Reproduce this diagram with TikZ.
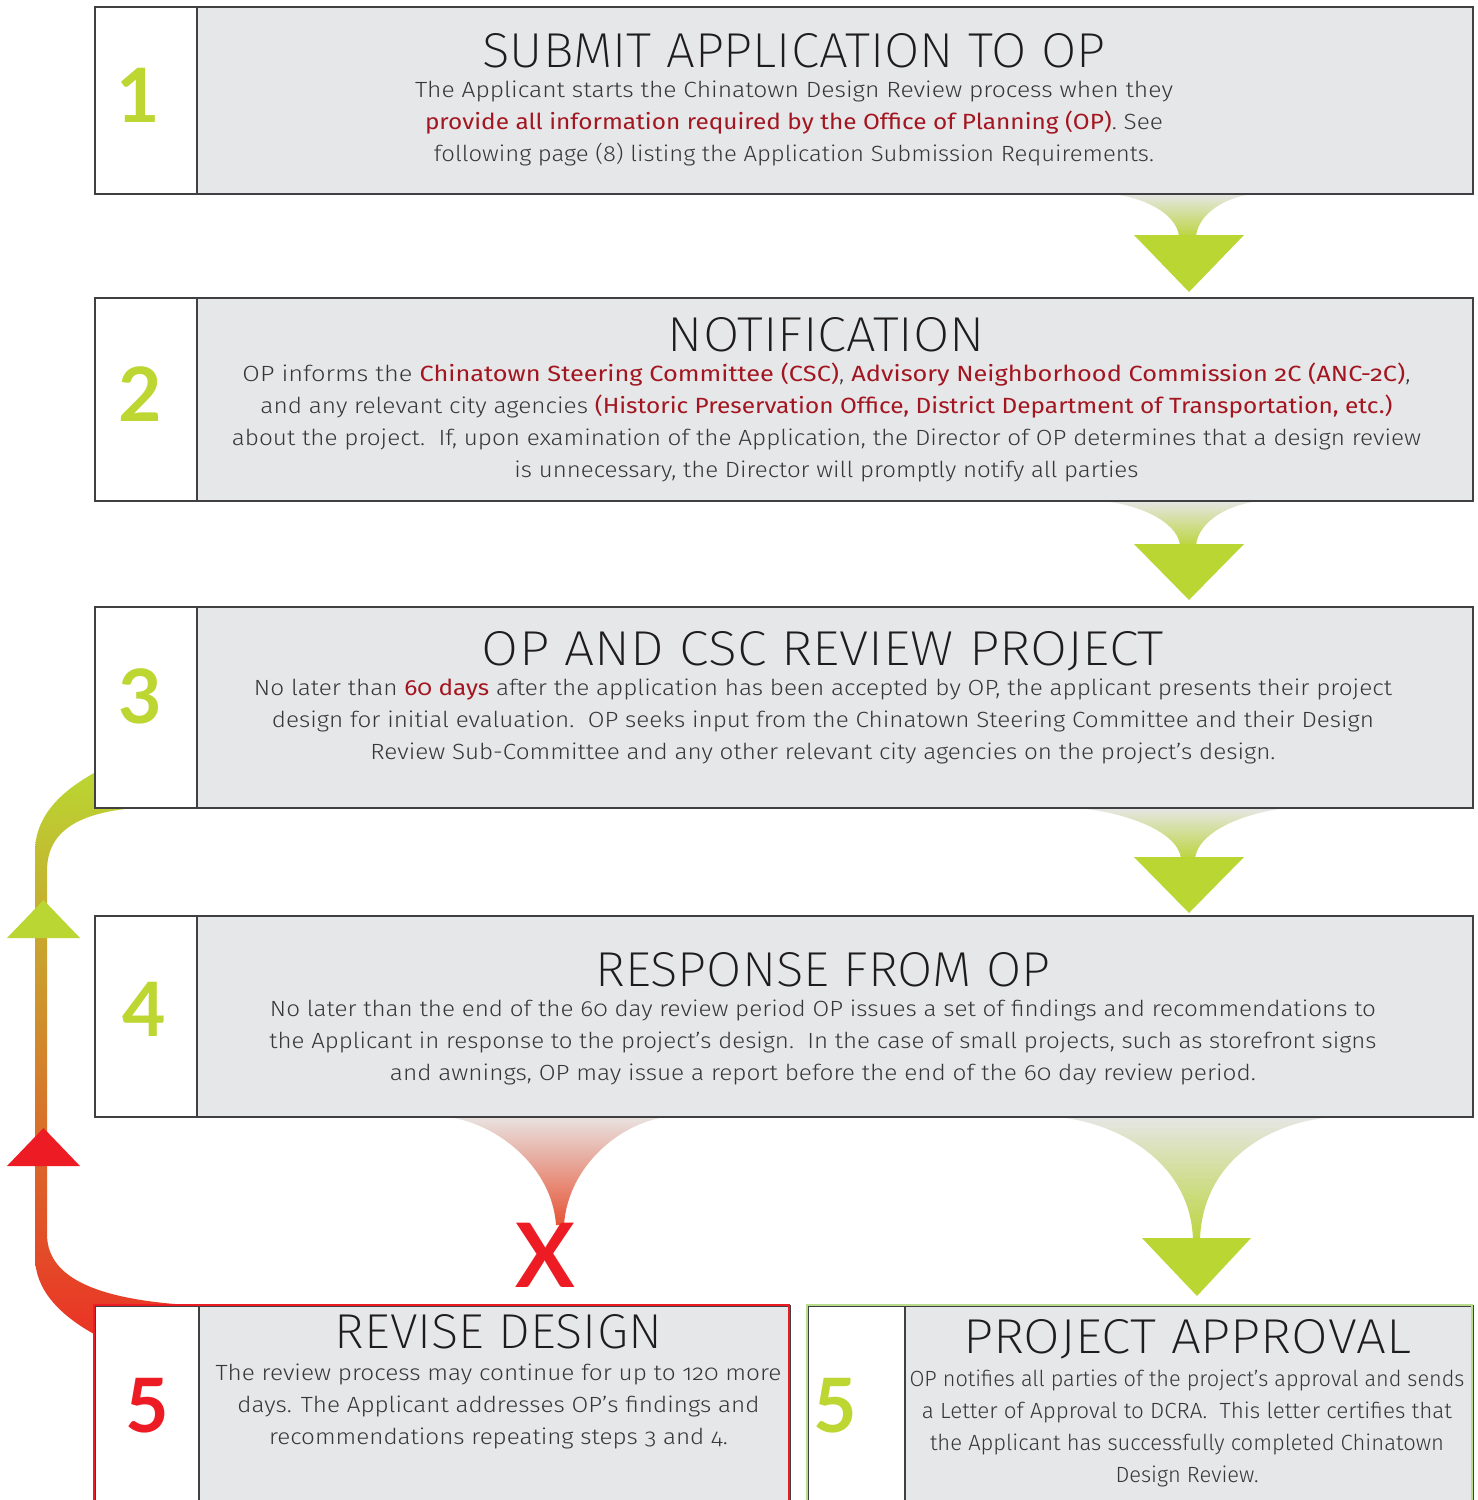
\documentclass[tikz,border=0pt]{standalone}
\usepackage{fontspec}
\usepackage{graphicx}
\setmainfont{Fira Sans}[UprightFont=* Light, Numbers=OldStyle]
\newfontfamily\titlefont{Fira Sans}[UprightFont=* ExtraLight]
\newfontfamily\redfont{Fira Sans}[Numbers=OldStyle]
\newfontfamily\numfont{Lato}
\definecolor{boxgray}{RGB}{230,231,232}
\definecolor{boxline}{RGB}{64,64,66}
\definecolor{numgreen}{RGB}{189,214,49}
\definecolor{arrowgreen}{RGB}{186,214,50}
\definecolor{textred}{RGB}{163,22,33}
\definecolor{bodytext}{RGB}{55,54,56}
\definecolor{titletext}{RGB}{30,28,29}
\definecolor{brightred}{RGB}{237,28,36}
\definecolor{lightgreen}{RGB}{185,220,140}
\definecolor{funneltop}{RGB}{229,230,228}
\definecolor{funnelgreen}{RGB}{188,213,65}
\definecolor{funnelred}{RGB}{230,85,55}
\definecolor{funneltopred}{RGB}{232,226,224}
\definecolor{bandmid}{RGB}{208,165,46}
\definecolor{bandred}{RGB}{234,52,38}
\newcommand\fitline[2]{\resizebox{#1pt}{\height}{#2}}
\newcommand\hl[1]{{\redfont\color{textred}#1}}
\begin{document}
\begin{tikzpicture}[x=1pt,y=-1pt,
  numcell/.style={draw=boxline, line width=1.6pt, fill=white, anchor=north west, inner sep=0pt},
  bodycell/.style={draw=boxline, line width=1.6pt, fill=boxgray, anchor=north west, inner sep=0pt},
  ttl/.style={anchor=base, inner sep=0pt, font=\titlefont\fontsize{49}{49}\selectfont, text=titletext},
  txt/.style={anchor=base, inner sep=0pt, font=\fontsize{22}{32}\selectfont, text=bodytext},
  num/.style={inner sep=0pt, font=\numfont\bfseries\fontsize{75}{75}\selectfont, text=numgreen},
  gfun/.style={top color=funneltop, bottom color=funnelgreen},
  tri/.style={fill=arrowgreen}]
\useasboundingbox (0,0) rectangle (1478,1500);
\clip (0,0) rectangle (1478,1500);
\fill[white] (0,0) rectangle (1478,1500);

% funnels
\shade[gfun] (1110,194) .. controls (1140,196) and (1176,212) .. (1179,236) -- (1196,236) .. controls (1199,212) and (1228,196) .. (1255,194) -- cycle;
\shade[gfun] (1100,501) .. controls (1134,503) and (1177,520) .. (1180,545) -- (1196,545) .. controls (1199,520) and (1231,503) .. (1262,501) -- cycle;
\shade[gfun] (1075,808) .. controls (1121,811) and (1177,830) .. (1181,858) -- (1195,858) .. controls (1199,830) and (1249,811) .. (1290,808) -- cycle;
\shade[gfun] (1057,1117) .. controls (1115,1122) and (1190,1160) .. (1193,1239) -- (1200,1239) .. controls (1203,1160) and (1270,1122) .. (1333,1117) -- cycle;
\shade[top color=funneltopred, bottom color=funnelred] (447,1117) .. controls (494,1122) and (552,1165) .. (556,1225) -- (564,1225) .. controls (568,1165) and (622,1122) .. (667,1117) -- cycle;

% loop band
\shade[top color=arrowgreen, middle color=bandmid, bottom color=bandred]
  (94,773) .. controls (55,795) and (35,820) .. (35,852) -- (35,1257)
  .. controls (35,1290) and (60,1315) .. (94,1334) -- (94,1304) -- (175,1304)
  .. controls (80,1296) and (47,1270) .. (47,1234) -- (47,871)
  .. controls (47,830) and (80,810) .. (150,807) -- (94,807) -- cycle;
\fill[arrowgreen] (7,938) -- (80,938) -- (43.5,900) -- cycle;
\fill[brightred] (7,1166) -- (80,1166) -- (43.5,1128) -- cycle;

% boxes
\node[numcell, minimum width=102pt, minimum height=187pt] (c1) at (94,6) {};
\node[bodycell, minimum width=1276pt, minimum height=187pt] (g1) at (196,6) {};
\node[numcell, minimum width=102pt, minimum height=203pt] (c2) at (94,297) {};
\node[bodycell, minimum width=1276pt, minimum height=203pt] (g2) at (196,297) {};
\node[numcell, minimum width=102pt, minimum height=201pt] (c3) at (94,606) {};
\node[bodycell, minimum width=1276pt, minimum height=201pt] (g3) at (196,606) {};
\node[numcell, minimum width=102pt, minimum height=201pt] (c4) at (94,915) {};
\node[bodycell, minimum width=1276pt, minimum height=201pt] (g4) at (196,915) {};
\node[numcell, minimum width=104pt, minimum height=215pt] (c5) at (94,1305) {};
\node[bodycell, minimum width=591pt, minimum height=215pt] (g5) at (198,1305) {};
\draw[brightred, line width=2.6pt] (94,1530) -- (94,1305) -- (789,1305) -- (789,1530);
\node[numcell, minimum width=97pt, minimum height=215pt] (c6) at (807,1305) {};
\node[bodycell, minimum width=568pt, minimum height=215pt] (g6) at (904,1305) {};
\draw[lightgreen, line width=2.6pt] (807,1530) -- (807,1305) -- (1472,1305) -- (1472,1530);

% arrow heads
\fill[arrowgreen] (1134,235) -- (1244,235) -- (1189,292) -- cycle;
\fill[arrowgreen] (1134,544) -- (1244,544) -- (1189,600) -- cycle;
\fill[arrowgreen] (1134,857) -- (1244,857) -- (1189,913) -- cycle;
\fill[arrowgreen] (1142,1238) -- (1251,1238) -- (1197,1296) -- cycle;
\node[inner sep=0pt, font=\numfont\bfseries\fontsize{89}{89}\selectfont, text=brightred] (x) at (545.5,1255) {X};

% numbers
\node[num] (n1) at (138.5,95) {1};
\node[num] (n2) at (140,394.5) {2};
\node[num] (n3) at (140,696) {3};
\node[num] (n4) at (144.5,1009.5) {4};
\node[num, text=brightred] (n5a) at (147.5,1406) {5};
\node[num] (n5b) at (835,1406) {5};

% box 1
\node[ttl] (t1) at (794,67) {\fitline{623}{SUBMIT APPLICATION TO OP}};
\node[txt] (l11) at (794,97) {\fitline{758}{The Applicant starts the Chinatown Design Review process when they}};
\node[txt] (l12) at (794,129) {\fitline{738}{\hl{provide all information required by the Office of Planning (OP)}. See}};
\node[txt] (l13) at (794,161) {\fitline{720}{following page (8) listing the Application Submission Requirements.}};

% box 2
\node[ttl] (t2) at (826.5,351) {\fitline{317}{NOTIFICATION}};
\node[txt] (l21) at (826.5,381) {\fitline{1168}{OP informs the \hl{Chinatown Steering Committee (CSC)}, \hl{Advisory Neighborhood Commission 2C (ANC-2C)},}};
\node[txt] (l22) at (826.5,413) {\fitline{1132}{and any relevant city agencies \hl{(Historic Preservation Office, District Department of Transportation, etc.)}}};
\node[txt] (l23) at (826.5,445) {\fitline{1189}{about the project.\ \ If, upon examination of the Application, the Director of OP determines that a design review}};
\node[txt] (l24) at (826.5,477) {\fitline{624}{is unnecessary, the Director will promptly notify all parties}};

% box 3
\node[ttl] (t3) at (823,665) {\fitline{682}{OP AND CSC REVIEW PROJECT}};
\node[txt] (l31) at (823,695) {\fitline{1138}{No later than \hl{60 days} after the application has been accepted by OP, the applicant presents their project}};
\node[txt] (l32) at (823,727) {\fitline{1102}{design for initial evaluation.\ \ OP seeks input from the Chinatown Steering Committee and their Design}};
\node[txt] (l33) at (823,759) {\fitline{905}{Review Sub-Committee and any other relevant city agencies on the project’s design.}};

% box 4
\node[ttl] (t4) at (823,986) {\fitline{455}{RESPONSE FROM OP}};
\node[txt] (l41) at (823,1016) {\fitline{1106}{No later than the end of the 60 day review period OP issues a set of findings and recommendations to}};
\node[txt] (l42) at (823,1048) {\fitline{1107}{the Applicant in response to the project’s design.\ \ In the case of small projects, such as storefront signs}};
\node[txt] (l43) at (823,1080) {\fitline{866}{and awnings, OP may issue a report before the end of the 60 day review period.}};

% revise
\node[ttl] (t5) at (498.5,1348) {\fitline{327}{REVISE DESIGN}};
\node[txt] (l51) at (498.5,1380) {\fitline{566}{The review process may continue for up to 120 more}};
\node[txt] (l52) at (498.5,1412) {\fitline{522}{days. The Applicant addresses OP’s findings and}};
\node[txt] (l53) at (498.5,1444) {\fitline{459}{recommendations repeating steps 3 and 4.}};

% approval
\node[ttl] (t6) at (1187,1353) {\fitline{448}{PROJECT APPROVAL}};
\node[txt] (l61) at (1187,1386) {\fitline{555}{OP notifies all parties of the project’s approval and sends}};
\node[txt] (l62) at (1187,1418) {\fitline{530}{a Letter of Approval to DCRA.\ \ This letter certifies that}};
\node[txt] (l63) at (1187,1450) {\fitline{514}{the Applicant has successfully completed Chinatown}};
\node[txt] (l64) at (1187,1482) {\fitline{143}{Design Review.}};
\end{tikzpicture}
\end{document}
